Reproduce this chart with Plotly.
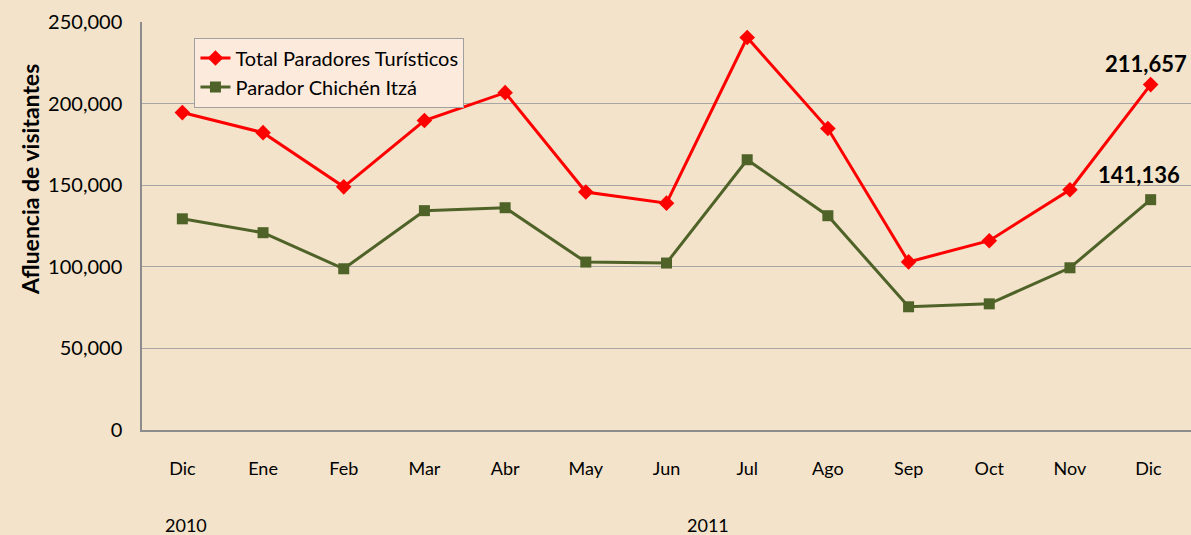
import plotly.graph_objects as go

months = ["Dic", "Ene", "Feb", "Mar", "Abr", "May", "Jun", "Jul", "Ago", "Sep", "Oct", "Nov", "Dic "]
total_paradores = [194500, 182200, 149000, 189600, 206700, 145800, 139000, 240500, 184700, 103000, 116000, 147200, 211657]
chichen_itza = [129400, 120900, 98800, 134400, 136200, 102900, 102300, 165600, 131300, 75500, 77300, 99400, 141136]
y_ticks = [0, 50000, 100000, 150000, 200000, 250000]
year_labels = [("Dic", "2010", 4), ("Jun", "2011", 41)]

FONT = "Lato"
BG = "#F2E3CA"

fig = go.Figure()
fig.add_trace(go.Scatter(
    x=months, y=total_paradores, name="Total Paradores Turísticos",
    mode="lines+markers",
    line=dict(color="#FF0000", width=3),
    marker=dict(symbol="diamond", size=12, color="#FF0000"),
))
fig.add_trace(go.Scatter(
    x=months, y=chichen_itza, name="Parador Chichén Itzá",
    mode="lines+markers",
    line=dict(color="#4F6228", width=3),
    marker=dict(symbol="square", size=11, color="#4F6228"),
))

# data labels for last points
fig.add_annotation(x=months[-1], y=total_paradores[-1], text=f"<b>{total_paradores[-1]:,}</b>",
                   showarrow=False, xref="x", yref="y", yshift=21, xshift=-5,
                   font=dict(family=FONT, size=22, color="black"))
fig.add_annotation(x=months[-1], y=chichen_itza[-1], text=f"<b>{chichen_itza[-1]:,}</b>",
                   showarrow=False, xref="x", yref="y", yshift=25, xshift=-12,
                   font=dict(family=FONT, size=22, color="black"))

# year labels
for m, yr, dx in year_labels:
    fig.add_annotation(x=m, y=0, xref="x", yref="paper", text=yr, showarrow=False,
                       yshift=-108, xshift=dx, font=dict(family=FONT, size=18, color="black"))

# y axis title
fig.add_annotation(x=0, y=0.613, xref="paper", yref="paper", xanchor="center", yanchor="middle",
                   xshift=-112, text="<b>Afluencia de visitantes</b>",
                   textangle=-90, showarrow=False, font=dict(family=FONT, size=23, color="black"))

fig.update_layout(
    width=1191, height=535,
    margin=dict(l=142, r=0, t=22, b=105),
    paper_bgcolor=BG, plot_bgcolor=BG,
    font=dict(family=FONT, size=18, color="black"),
    showlegend=True,
    legend=dict(x=0.05, y=0.962, xanchor="left", yanchor="top",
                bgcolor="#FCEBDD", bordercolor="#A0A0A0", borderwidth=1,
                font=dict(family=FONT, size=20, color="black"),
                tracegroupgap=0, itemwidth=30),
)
fig.update_xaxes(
    type="category", range=[-0.5, 12.5],
    showline=True, linecolor="#8C8C8C", linewidth=1.5,
    showgrid=False, ticks="outside", ticklen=22, tickcolor="rgba(0,0,0,0)",
    tickfont=dict(family=FONT, size=18),
)
fig.update_yaxes(
    range=[0, 250000], tickvals=y_ticks, tickformat=",",
    showline=True, linecolor="#8C8C8C", linewidth=1.5,
    showgrid=True, gridcolor="#A6A6A6", gridwidth=1,
    zeroline=False, ticks="outside", ticklen=14, tickcolor="rgba(0,0,0,0)",
    tickfont=dict(family=FONT, size=20),
)

fig.write_html("out.html", config={"displayModeBar": False},
               post_script="document.body.style.margin='0';")
